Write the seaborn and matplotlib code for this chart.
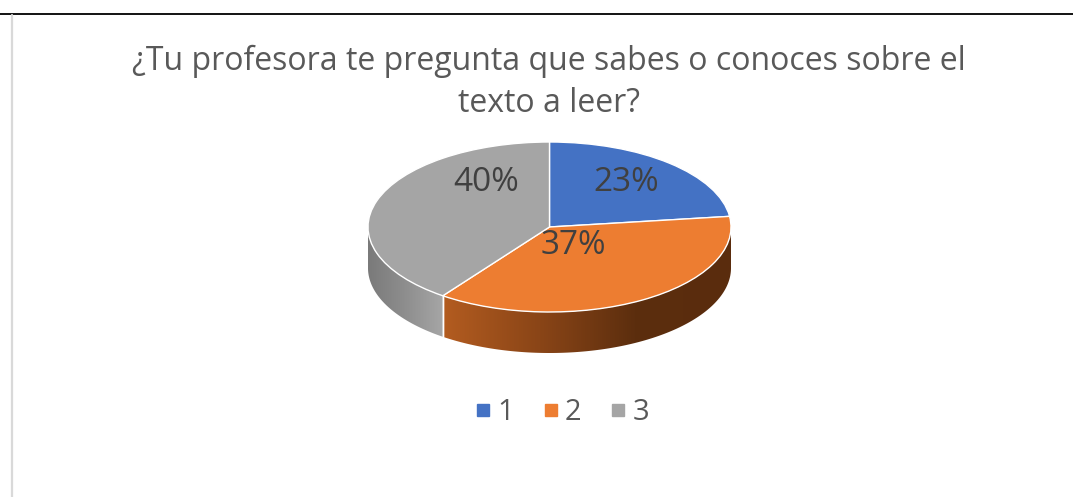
import numpy as np
import matplotlib.pyplot as plt
import matplotlib.colors as mcolors
from matplotlib.patches import Polygon
from matplotlib.lines import Line2D
import seaborn as sns

categorias = ['1', '2', '3']
porcentajes = [23, 37, 40]
colores = ['#4472C4', '#ED7D31', '#A5A5A5']
titulo = '¿Tu profesora te pregunta que sabes o conoces sobre el\ntexto a leer?'

sns.set_theme(style="white")
plt.rcParams['font.family'] = ['Open Sans', 'DejaVu Sans']

W, H = 1073, 497
fig = plt.figure(figsize=(W / 100, H / 100), dpi=100)

# marco de la hoja
fig.add_artist(Line2D([0, 1], [1 - 14 / H, 1 - 14 / H], color='black', lw=1.3))
fig.add_artist(Line2D([11.5 / W, 11.5 / W], [0, 1 - 15 / H], color='#d9d9d9', lw=1.6))

fig.text(549 / W, 1 - 112 / H, titulo, ha='center', va='baseline', fontsize=23,
         color='#595959', linespacing=1.36)

# pastel con perspectiva (elipse + pared lateral)
cx0, cx1 = 368, 731
cy_top, cy_bot = 142, 312
prof = 41
d = prof / ((cy_bot - cy_top) / 2)
ax = fig.add_axes([cx0 / W, 1 - (cy_bot + prof) / H, (cx1 - cx0) / W, (cy_bot - cy_top + prof) / H])

wedges, _ = ax.pie(porcentajes, colors=colores, startangle=90, counterclock=False,
                   wedgeprops=dict(edgecolor='white', linewidth=1.0), radius=1)
ax.set_aspect('auto')
ax.axis('off')

# pared lateral con degradado horizontal
sombras = {1: ['#b35c20', '#8a4517', '#5c2e0e', '#5a2c0d'], 2: ['#7a7a7a', '#8e8e8e', '#a6a6a6']}
for i, w in enumerate(wedges):
    t1, t2 = sorted([w.theta1, w.theta2])
    for off in (0, 360, -360):
        a, b = max(t1 + off, 180), min(t2 + off, 360)
        if a >= b:
            continue
        ts = np.radians(np.linspace(a, b, 200))
        xs, ys = np.cos(ts), np.sin(ts)
        verts = np.vstack([np.column_stack([xs, ys]), np.column_stack([xs[::-1], ys[::-1] - d])])
        pared = Polygon(verts, closed=True, facecolor='none', edgecolor='none')
        ax.add_patch(pared)
        cmap = mcolors.LinearSegmentedColormap.from_list(f'p{i}', sombras[i])
        grad = np.linspace(0, 1, 256)[None, :]
        img = ax.imshow(grad, cmap=cmap, aspect='auto', zorder=0,
                        extent=[xs.min(), xs.max(), ys.min() - d, ys.max()])
        img.set_clip_path(pared)
        for t in (a, b):
            if 180 < t < 360:
                x, y = np.cos(np.radians(t)), np.sin(np.radians(t))
                ax.plot([x, x], [y, y - d], color='white', lw=1.0, zorder=1)
ax.set_xlim(-1, 1)
ax.set_ylim(-1 - d, 1)

# etiquetas de porcentaje
pos_etq = [(0.42, 0.52), (0.13, -0.22), (-0.35, 0.52)]
for p, (x, y) in zip(porcentajes, pos_etq):
    ax.text(x, y, f'{p}%', ha='center', va='center', fontsize=24, color='#404040', zorder=5)

handles = [Line2D([], [], marker='s', linestyle='', markersize=9, color=c) for c in colores]
fig.legend(handles, categorias, loc='center', bbox_to_anchor=(561 / W, 1 - 413 / H), ncol=3,
           frameon=False, fontsize=21, labelcolor='#595959', handletextpad=0.15,
           columnspacing=0.9, handlelength=0.7)

fig.savefig('out.png', dpi=100, facecolor='white')
